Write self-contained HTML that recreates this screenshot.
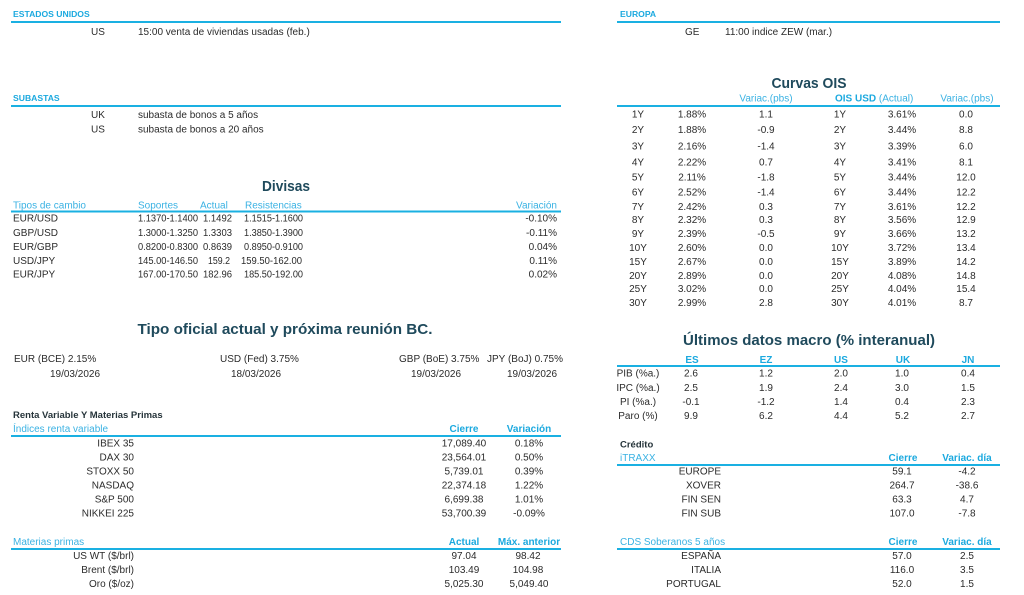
<!DOCTYPE html>
<html><head><meta charset="utf-8"><style>
html,body{margin:0;padding:0;background:#fff;width:1024px;height:595px;overflow:hidden;}
svg{display:block;}
text{font-family:"Liberation Sans",sans-serif;font-size:10px;fill:#2b2b2b;}
.h{fill:#3ab2e3;}
.hb{fill:#1ba9df;font-weight:bold;}
.t{fill:#1f4a5c;font-weight:bold;font-size:15px;}
.m{text-anchor:middle;}
.e{text-anchor:end;}
.sec{fill:#1ba9df;font-weight:bold;font-size:8.6px;}
.dk{fill:#26343a;font-weight:bold;font-size:9.5px;}
line{stroke:#1ab0e2;stroke-width:2;}
</style></head><body>
<svg width="1024" height="595" viewBox="0 0 1024 595" xmlns="http://www.w3.org/2000/svg">
<!-- ESTADOS UNIDOS -->
<text class="sec" x="13" y="17">ESTADOS UNIDOS</text>
<line x1="11" y1="22" x2="561" y2="22"/>
<text x="91" y="35">US</text>
<text x="138" y="35">15:00 venta de viviendas usadas (feb.)</text>

<!-- SUBASTAS -->
<text class="sec" x="13" y="101">SUBASTAS</text>
<line x1="11" y1="106" x2="561" y2="106"/>
<text x="91" y="118">UK</text>
<text x="138" y="118">subasta de bonos a 5 años</text>
<text x="91" y="132.5">US</text>
<text x="138" y="132.5">subasta de bonos a 20 años</text>

<!-- EUROPA -->
<text class="sec" x="620" y="17">EUROPA</text>
<line x1="617" y1="22" x2="1000" y2="22"/>
<text x="685" y="35">GE</text>
<text x="725" y="35">11:00 indice ZEW (mar.)</text>

<!-- Divisas -->
<text class="t m" x="286" y="191" textLength="48" lengthAdjust="spacingAndGlyphs">Divisas</text>
<text class="h" x="13" y="208.5">Tipos de cambio</text>
<text class="h" x="138" y="208.5">Soportes</text>
<text class="h" x="200" y="208.5">Actual</text>
<text class="h" x="245" y="208.5">Resistencias</text>
<text class="h e" x="557" y="208.5">Variación</text>
<line x1="11" y1="211.5" x2="561" y2="211.5"/>
<g>
<text x="13" y="221.5">EUR/USD</text><text x="138" y="221.5" textLength="60" lengthAdjust="spacingAndGlyphs">1.1370-1.1400</text><text x="203" y="221.5" textLength="29" lengthAdjust="spacingAndGlyphs">1.1492</text><text x="244" y="221.5" textLength="59" lengthAdjust="spacingAndGlyphs">1.1515-1.1600</text><text class="e" x="557" y="221.5">-0.10%</text>
<text x="13" y="236">GBP/USD</text><text x="138" y="236" textLength="60" lengthAdjust="spacingAndGlyphs">1.3000-1.3250</text><text x="203" y="236" textLength="29" lengthAdjust="spacingAndGlyphs">1.3303</text><text x="244" y="236" textLength="59" lengthAdjust="spacingAndGlyphs">1.3850-1.3900</text><text class="e" x="557" y="236">-0.11%</text>
<text x="13" y="250">EUR/GBP</text><text x="138" y="250" textLength="60" lengthAdjust="spacingAndGlyphs">0.8200-0.8300</text><text x="203" y="250" textLength="29" lengthAdjust="spacingAndGlyphs">0.8639</text><text x="244" y="250" textLength="59" lengthAdjust="spacingAndGlyphs">0.8950-0.9100</text><text class="e" x="557" y="250">0.04%</text>
<text x="13" y="264">USD/JPY</text><text x="138" y="264" textLength="60" lengthAdjust="spacingAndGlyphs">145.00-146.50</text><text x="208" y="264" textLength="22" lengthAdjust="spacingAndGlyphs">159.2</text><text x="241" y="264" textLength="61" lengthAdjust="spacingAndGlyphs">159.50-162.00</text><text class="e" x="557" y="264">0.11%</text>
<text x="13" y="277.5">EUR/JPY</text><text x="138" y="277.5" textLength="60" lengthAdjust="spacingAndGlyphs">167.00-170.50</text><text x="203" y="277.5" textLength="29" lengthAdjust="spacingAndGlyphs">182.96</text><text x="244" y="277.5" textLength="59" lengthAdjust="spacingAndGlyphs">185.50-192.00</text><text class="e" x="557" y="277.5">0.02%</text>
</g>

<!-- Curvas OIS -->
<text class="t m" x="809" y="88" textLength="75" lengthAdjust="spacingAndGlyphs">Curvas OIS</text>
<text class="h m" x="766" y="101.5">Variac.(pbs)</text>
<text class="h" x="835" y="101.5"><tspan class="hb">OIS USD</tspan> (Actual)</text>
<text class="h m" x="967" y="101.5">Variac.(pbs)</text>
<line x1="617" y1="106" x2="1000" y2="106"/>
<g>
<text class="m" x="638" y="117.5">1Y</text><text class="m" x="692" y="117.5">1.88%</text><text class="m" x="766" y="117.5">1.1</text><text class="m" x="840" y="117.5">1Y</text><text class="m" x="902" y="117.5">3.61%</text><text class="m" x="966" y="117.5">0.0</text>
<text class="m" x="638" y="133">2Y</text><text class="m" x="692" y="133">1.88%</text><text class="m" x="766" y="133">-0.9</text><text class="m" x="840" y="133">2Y</text><text class="m" x="902" y="133">3.44%</text><text class="m" x="966" y="133">8.8</text>
<text class="m" x="638" y="149.5">3Y</text><text class="m" x="692" y="149.5">2.16%</text><text class="m" x="766" y="149.5">-1.4</text><text class="m" x="840" y="149.5">3Y</text><text class="m" x="902" y="149.5">3.39%</text><text class="m" x="966" y="149.5">6.0</text>
<text class="m" x="638" y="165.5">4Y</text><text class="m" x="692" y="165.5">2.22%</text><text class="m" x="766" y="165.5">0.7</text><text class="m" x="840" y="165.5">4Y</text><text class="m" x="902" y="165.5">3.41%</text><text class="m" x="966" y="165.5">8.1</text>
<text class="m" x="638" y="180.5">5Y</text><text class="m" x="692" y="180.5">2.11%</text><text class="m" x="766" y="180.5">-1.8</text><text class="m" x="840" y="180.5">5Y</text><text class="m" x="902" y="180.5">3.44%</text><text class="m" x="966" y="180.5">12.0</text>
<text class="m" x="638" y="195.5">6Y</text><text class="m" x="692" y="195.5">2.52%</text><text class="m" x="766" y="195.5">-1.4</text><text class="m" x="840" y="195.5">6Y</text><text class="m" x="902" y="195.5">3.44%</text><text class="m" x="966" y="195.5">12.2</text>
<text class="m" x="638" y="210">7Y</text><text class="m" x="692" y="210">2.42%</text><text class="m" x="766" y="210">0.3</text><text class="m" x="840" y="210">7Y</text><text class="m" x="902" y="210">3.61%</text><text class="m" x="966" y="210">12.2</text>
<text class="m" x="638" y="223">8Y</text><text class="m" x="692" y="223">2.32%</text><text class="m" x="766" y="223">0.3</text><text class="m" x="840" y="223">8Y</text><text class="m" x="902" y="223">3.56%</text><text class="m" x="966" y="223">12.9</text>
<text class="m" x="638" y="237">9Y</text><text class="m" x="692" y="237">2.39%</text><text class="m" x="766" y="237">-0.5</text><text class="m" x="840" y="237">9Y</text><text class="m" x="902" y="237">3.66%</text><text class="m" x="966" y="237">13.2</text>
<text class="m" x="638" y="251">10Y</text><text class="m" x="692" y="251">2.60%</text><text class="m" x="766" y="251">0.0</text><text class="m" x="840" y="251">10Y</text><text class="m" x="902" y="251">3.72%</text><text class="m" x="966" y="251">13.4</text>
<text class="m" x="638" y="265">15Y</text><text class="m" x="692" y="265">2.67%</text><text class="m" x="766" y="265">0.0</text><text class="m" x="840" y="265">15Y</text><text class="m" x="902" y="265">3.89%</text><text class="m" x="966" y="265">14.2</text>
<text class="m" x="638" y="279">20Y</text><text class="m" x="692" y="279">2.89%</text><text class="m" x="766" y="279">0.0</text><text class="m" x="840" y="279">20Y</text><text class="m" x="902" y="279">4.08%</text><text class="m" x="966" y="279">14.8</text>
<text class="m" x="638" y="292">25Y</text><text class="m" x="692" y="292">3.02%</text><text class="m" x="766" y="292">0.0</text><text class="m" x="840" y="292">25Y</text><text class="m" x="902" y="292">4.04%</text><text class="m" x="966" y="292">15.4</text>
<text class="m" x="638" y="306">30Y</text><text class="m" x="692" y="306">2.99%</text><text class="m" x="766" y="306">2.8</text><text class="m" x="840" y="306">30Y</text><text class="m" x="902" y="306">4.01%</text><text class="m" x="966" y="306">8.7</text>
</g>

<!-- Tipo oficial -->
<text class="t m" x="285" y="334" textLength="295" lengthAdjust="spacingAndGlyphs">Tipo oficial actual y próxima reunión BC.</text>
<text x="14" y="362">EUR (BCE) 2.15%</text>
<text x="220" y="362">USD (Fed) 3.75%</text>
<text x="399" y="362">GBP (BoE) 3.75%</text>
<text x="487" y="362">JPY (BoJ) 0.75%</text>
<text class="m" x="75" y="377">19/03/2026</text>
<text class="m" x="256" y="377">18/03/2026</text>
<text class="m" x="436" y="377">19/03/2026</text>
<text class="m" x="532" y="377">19/03/2026</text>

<!-- Últimos datos macro -->
<text class="t m" x="809" y="345" textLength="252" lengthAdjust="spacingAndGlyphs">Últimos datos macro (% interanual)</text>
<text class="hb m" x="692" y="363">ES</text>
<text class="hb m" x="766" y="363">EZ</text>
<text class="hb m" x="841" y="363">US</text>
<text class="hb m" x="903" y="363">UK</text>
<text class="hb m" x="968" y="363">JN</text>
<line x1="617" y1="366" x2="1000" y2="366"/>
<g>
<text class="m" x="638" y="376.5">PIB (%a.)</text><text class="m" x="691" y="376.5">2.6</text><text class="m" x="766" y="376.5">1.2</text><text class="m" x="841" y="376.5">2.0</text><text class="m" x="902" y="376.5">1.0</text><text class="m" x="968" y="376.5">0.4</text>
<text class="m" x="638" y="391">IPC (%a.)</text><text class="m" x="691" y="391">2.5</text><text class="m" x="766" y="391">1.9</text><text class="m" x="841" y="391">2.4</text><text class="m" x="902" y="391">3.0</text><text class="m" x="968" y="391">1.5</text>
<text class="m" x="638" y="405">PI (%a.)</text><text class="m" x="691" y="405">-0.1</text><text class="m" x="766" y="405">-1.2</text><text class="m" x="841" y="405">1.4</text><text class="m" x="902" y="405">0.4</text><text class="m" x="968" y="405">2.3</text>
<text class="m" x="638" y="419">Paro (%)</text><text class="m" x="691" y="419">9.9</text><text class="m" x="766" y="419">6.2</text><text class="m" x="841" y="419">4.4</text><text class="m" x="902" y="419">5.2</text><text class="m" x="968" y="419">2.7</text>
</g>

<!-- Renta variable -->
<text class="dk" x="13" y="418">Renta Variable Y Materias Primas</text>
<text class="h" x="13" y="432">Índices renta variable</text>
<text class="hb m" x="464" y="432">Cierre</text>
<text class="hb m" x="529" y="432">Variación</text>
<line x1="11" y1="436" x2="561" y2="436"/>
<g>
<text class="e" x="134" y="446.5">IBEX 35</text><text class="m" x="464" y="446.5">17,089.40</text><text class="m" x="529" y="446.5">0.18%</text>
<text class="e" x="134" y="460.5">DAX 30</text><text class="m" x="464" y="460.5">23,564.01</text><text class="m" x="529" y="460.5">0.50%</text>
<text class="e" x="134" y="474.5">STOXX 50</text><text class="m" x="464" y="474.5">5,739.01</text><text class="m" x="529" y="474.5">0.39%</text>
<text class="e" x="134" y="488.5">NASDAQ</text><text class="m" x="464" y="488.5">22,374.18</text><text class="m" x="529" y="488.5">1.22%</text>
<text class="e" x="134" y="502.5">S&amp;P 500</text><text class="m" x="464" y="502.5">6,699.38</text><text class="m" x="529" y="502.5">1.01%</text>
<text class="e" x="134" y="516.5">NIKKEI 225</text><text class="m" x="464" y="516.5">53,700.39</text><text class="m" x="529" y="516.5">-0.09%</text>
</g>

<!-- Materias primas -->
<text class="h" x="13" y="545">Materias primas</text>
<text class="hb m" x="464" y="545">Actual</text>
<text class="hb m" x="529" y="545">Máx. anterior</text>
<line x1="11" y1="549" x2="561" y2="549"/>
<text class="e" x="134" y="559">US WT ($/brl)</text><text class="m" x="464" y="559">97.04</text><text class="m" x="528" y="559">98.42</text>
<text class="e" x="134" y="573">Brent ($/brl)</text><text class="m" x="464" y="573">103.49</text><text class="m" x="528" y="573">104.98</text>
<text class="e" x="134" y="587">Oro ($/oz)</text><text class="m" x="464" y="587">5,025.30</text><text class="m" x="529" y="587">5,049.40</text>

<!-- Crédito -->
<text class="dk" x="620" y="447.5">Crédito</text>
<text class="h" x="620" y="461">iTRAXX</text>
<text class="hb m" x="903" y="461">Cierre</text>
<text class="hb m" x="967" y="461">Variac. día</text>
<line x1="617" y1="465" x2="1000" y2="465"/>
<text class="e" x="721" y="474.5">EUROPE</text><text class="m" x="902" y="474.5">59.1</text><text class="m" x="967" y="474.5">-4.2</text>
<text class="e" x="721" y="488.5">XOVER</text><text class="m" x="902" y="488.5">264.7</text><text class="m" x="967" y="488.5">-38.6</text>
<text class="e" x="721" y="502.5">FIN SEN</text><text class="m" x="902" y="502.5">63.3</text><text class="m" x="967" y="502.5">4.7</text>
<text class="e" x="721" y="516.5">FIN SUB</text><text class="m" x="902" y="516.5">107.0</text><text class="m" x="967" y="516.5">-7.8</text>

<text class="h" x="620" y="545">CDS Soberanos 5 años</text>
<text class="hb m" x="903" y="545">Cierre</text>
<text class="hb m" x="967" y="545">Variac. día</text>
<line x1="617" y1="549" x2="1000" y2="549"/>
<text class="e" x="721" y="559">ESPAÑA</text><text class="m" x="902" y="559">57.0</text><text class="m" x="967" y="559">2.5</text>
<text class="e" x="721" y="573">ITALIA</text><text class="m" x="902" y="573">116.0</text><text class="m" x="967" y="573">3.5</text>
<text class="e" x="721" y="587">PORTUGAL</text><text class="m" x="902" y="587">52.0</text><text class="m" x="967" y="587">1.5</text>
</svg>
</body></html>
